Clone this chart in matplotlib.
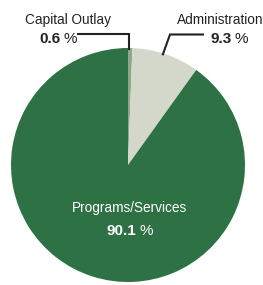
import numpy as np
import matplotlib
matplotlib.use('Agg')
from matplotlib import pyplot as plt

plt.rcParams['font.family'] = ['Liberation Sans', 'DejaVu Sans']

labels = ['Capital Outlay', 'Administration', 'Programs/Services']
shares = [0.6, 9.3, 90.1]
colors = ['#8fa68a', '#d4d8ca', '#2d7144']

W, H = 263, 285
cx, cy, R = 128, 165, 117  # pie centre and radius in pixels

fig = plt.figure(figsize=(W / 100, H / 100), dpi=100)
ax = fig.add_axes([(cx - R) / W, (H - cy - R) / H, 2 * R / W, 2 * R / H])
ax.pie(shares, colors=colors, startangle=90, counterclock=False,
       wedgeprops=dict(linewidth=0))
ax.set_xlim(-1, 1)
ax.set_ylim(-1, 1)
ax.set_aspect('equal')
ax.axis('off')

# overlay in pixel coordinates for labels
ov = fig.add_axes([0, 0, 1, 1])
ov.set_xlim(0, W)
ov.set_ylim(H, 0)
ov.axis('off')

def to_px(x, y):
    return cx + x * R, cy - y * R

# wedge mid angles for the leader lines
cum = np.cumsum([0] + shares)
mids = [90 - (cum[i] + shares[i] / 2) * 3.6 for i in range(len(shares))]
anchor = [to_px(np.cos(np.radians(a)), np.sin(np.radians(a))) for a in mids]

fs_lab = 9.8
fs_num = 11
ink = '#222222'

def pct(x_right, y_base, value, color):
    ov.text(x_right, y_base, f'{value}', ha='right', va='baseline', fontsize=fs_num,
            fontweight='bold', color=color)
    ov.text(x_right + 2.5, y_base, '%', ha='left', va='baseline', fontsize=fs_num,
            color=color)

# Capital Outlay
ax0, ay0 = anchor[0]
ov.plot([ax0 - 1.5, ax0 - 1.5, 78], [ay0 + 1, 33.5, 33.5], color=ink, lw=1.5,
        solid_joinstyle='miter')
ov.text(68, 24, labels[0], ha='center', va='baseline', fontsize=fs_lab, color=ink)
pct(60.5, 43, shares[0], ink)

# Administration
ax1, ay1 = anchor[1]
ov.plot([ax1 - 3, 170, 203], [ay1, 34.5, 34.5], color=ink, lw=1.5,
        solid_joinstyle='miter')
ov.text(177, 24, labels[1], ha='left', va='baseline', fontsize=fs_lab, color=ink)
pct(232, 43, shares[1], ink)

# Programs/Services
ov.text(129.5, 212, labels[2], ha='center', va='baseline', fontsize=fs_lab,
        color='white')
pct(136.5, 235, shares[2], 'white')

fig.savefig('out.png', dpi=100)
